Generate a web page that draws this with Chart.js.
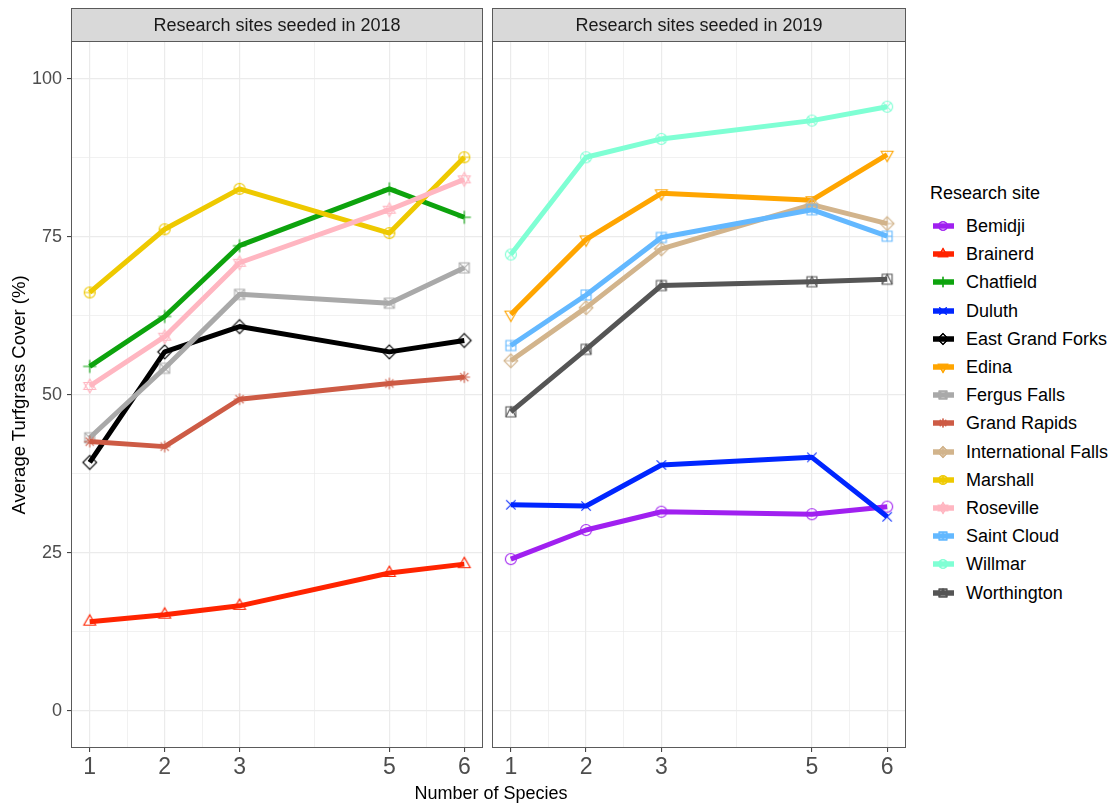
<!DOCTYPE html>
<html>
<head>
<meta charset="utf-8">
<title>Average Turfgrass Cover by Number of Species</title>
<script src="https://cdn.jsdelivr.net/npm/chart.js@4.4.1/dist/chart.umd.min.js"></script>
<style>
  html, body { margin: 0; padding: 0; background: #ffffff; }
  body { width: 1113px; height: 807px; position: relative; overflow: hidden;
         font-family: "Liberation Sans", Arial, sans-serif; }
  canvas { position: absolute; top: 0; }
  #panel2018 { left: 0; }
  #panel2019 { left: 488px; }
  .axis-title { position: absolute; color: #000; font-size: 18px; white-space: nowrap; line-height: 20px; }
  #xTitle { left: 391px; width: 200px; top: 783px; text-align: center; }
  #yTitle { left: -131px; width: 300px; top: 385px; text-align: center; transform: rotate(-90deg); font-size: 18.5px; }
  #legend { position: absolute; left: 0; top: 0; }
  .legend-title { position: absolute; left: 930px; top: 182px; font-size: 18px; color: #000; white-space: nowrap; line-height: 22px; }
  .legend-key { position: absolute; left: 931px; }
  .legend-label { position: absolute; left: 966px; font-size: 18px; color: #000; white-space: nowrap; line-height: 22px; }
</style>
</head>
<body>
<canvas id="panel2018" width="488" height="807"></canvas>
<canvas id="panel2019" width="424" height="807"></canvas>
<div class="axis-title" id="xTitle">Number of Species</div>
<div class="axis-title" id="yTitle">Average Turfgrass Cover (%)</div>
<div id="legend"></div>
<script>
// ---- Data -----------------------------------------------------------------
const speciesCounts = [1, 2, 3, 5, 6];
const xTickValues = [1, 2, 3, 5, 6];
const yTickValues = [0, 25, 50, 75, 100];
const panelTitles = ['Research sites seeded in 2018', 'Research sites seeded in 2019'];
const legendTitle = 'Research site';

const sites2018 = ['Brainerd', 'Chatfield', 'East Grand Forks', 'Fergus Falls', 'Grand Rapids', 'Marshall', 'Roseville'];
const sites2019 = ['Bemidji', 'Duluth', 'Edina', 'International Falls', 'Saint Cloud', 'Willmar', 'Worthington'];
const allSites = ['Bemidji', 'Brainerd', 'Chatfield', 'Duluth', 'East Grand Forks', 'Edina', 'Fergus Falls',
                  'Grand Rapids', 'International Falls', 'Marshall', 'Roseville', 'Saint Cloud', 'Willmar', 'Worthington'];

// Average turfgrass cover (%) at 1, 2, 3, 5 and 6 species
const brainerd           = [14.1, 15.2, 16.6, 21.8, 23.2];
const chatfield          = [54.5, 62.4, 73.6, 82.6, 78.1];
const eastGrandForks     = [39.3, 56.8, 60.8, 56.8, 58.6];
const fergusFalls        = [43.2, 54.2, 65.9, 64.5, 70.1];
const grandRapids        = [42.6, 41.8, 49.3, 51.8, 52.8];
const marshall           = [66.2, 76.2, 82.6, 75.6, 87.6];
const roseville          = [51.4, 59.2, 70.9, 79.3, 84.1];
const bemidji            = [24.0, 28.6, 31.5, 31.1, 32.3];
const duluth             = [32.6, 32.4, 38.9, 40.1, 30.7];
const edina              = [62.7, 74.6, 81.9, 80.8, 88.0];
const internationalFalls = [55.4, 63.8, 73.1, 80.1, 77.1];
const saintCloud         = [57.8, 65.8, 74.9, 79.3, 75.1];
const willmar            = [72.2, 87.6, 90.5, 93.4, 95.6];
const worthington        = [47.3, 57.2, 67.3, 67.9, 68.3];

const siteCover = {
  'Bemidji': bemidji, 'Brainerd': brainerd, 'Chatfield': chatfield, 'Duluth': duluth,
  'East Grand Forks': eastGrandForks, 'Edina': edina, 'Fergus Falls': fergusFalls,
  'Grand Rapids': grandRapids, 'International Falls': internationalFalls, 'Marshall': marshall,
  'Roseville': roseville, 'Saint Cloud': saintCloud, 'Willmar': willmar, 'Worthington': worthington
};

// ---- Styles -----------------------------------------------------------------
const siteStyle = {
  'Bemidji':             { color: '#A020F0', shape: 'circle' },
  'Brainerd':            { color: '#FF2400', shape: 'triangleUp' },
  'Chatfield':           { color: '#0DA30D', shape: 'plus' },
  'Duluth':              { color: '#0026FF', shape: 'cross' },
  'East Grand Forks':    { color: '#000000', shape: 'diamond' },
  'Edina':               { color: '#FFA500', shape: 'triangleDown' },
  'Fergus Falls':        { color: '#A9A9A9', shape: 'squareCross' },
  'Grand Rapids':        { color: '#CD5B45', shape: 'asterisk' },
  'International Falls': { color: '#D2B48C', shape: 'diamondPlus' },
  'Marshall':            { color: '#EEC900', shape: 'circlePlus' },
  'Roseville':           { color: '#FFB6C1', shape: 'starOfDavid' },
  'Saint Cloud':         { color: '#63B8FF', shape: 'squarePlus' },
  'Willmar':             { color: '#7FFFD4', shape: 'circleCross' },
  'Worthington':         { color: '#555555', shape: 'squareTriangle' }
};

const FONT = '"Liberation Sans", Arial, sans-serif';
const GRID = '#ebebeb';
const TEXT = '#4d4d4d';

// ---- Point markers (hollow glyphs drawn on small canvases) -----------------
function makeMarker(shape, color, r) {
  const size = Math.ceil(r * 3.2);
  const c = document.createElement('canvas');
  c.width = size; c.height = size;
  const g = c.getContext('2d');
  g.translate(size / 2, size / 2);
  g.strokeStyle = color;
  g.lineWidth = 1.1;
  g.lineJoin = 'miter';
  const R = r * 1.25, s = r * 0.9, d = r * 1.25;
  const circle = () => { g.beginPath(); g.arc(0, 0, r, 0, Math.PI * 2); g.stroke(); };
  const tri = (dir) => {
    g.beginPath();
    g.moveTo(0, -dir * R);
    g.lineTo(R * 0.866, dir * R * 0.5);
    g.lineTo(-R * 0.866, dir * R * 0.5);
    g.closePath(); g.stroke();
  };
  const square = () => { g.beginPath(); g.rect(-s, -s, 2 * s, 2 * s); g.stroke(); };
  const diamond = () => {
    g.beginPath(); g.moveTo(0, -d); g.lineTo(d, 0); g.lineTo(0, d); g.lineTo(-d, 0); g.closePath(); g.stroke();
  };
  const plus = (l) => { g.beginPath(); g.moveTo(-l, 0); g.lineTo(l, 0); g.moveTo(0, -l); g.lineTo(0, l); g.stroke(); };
  const cross = (l) => { g.beginPath(); g.moveTo(-l, -l); g.lineTo(l, l); g.moveTo(l, -l); g.lineTo(-l, l); g.stroke(); };
  switch (shape) {
    case 'circle': circle(); break;
    case 'triangleUp': tri(1); break;
    case 'plus': plus(r * 1.2); break;
    case 'cross': cross(r * 0.85); break;
    case 'diamond': diamond(); break;
    case 'triangleDown': tri(-1); break;
    case 'squareCross': square(); cross(s); break;
    case 'asterisk': plus(r * 1.05); cross(r * 0.75); break;
    case 'diamondPlus': diamond(); plus(d); break;
    case 'circlePlus': circle(); plus(r); break;
    case 'starOfDavid': tri(1); tri(-1); break;
    case 'squarePlus': square(); plus(s); break;
    case 'circleCross': circle(); cross(r * 0.707); break;
    case 'squareTriangle':
      square();
      g.beginPath(); g.moveTo(-s, s); g.lineTo(0, -s); g.lineTo(s, s); g.stroke();
      break;
  }
  return c;
}

const plotMarkers = {};
const keyMarkers = {};
allSites.forEach(name => {
  plotMarkers[name] = makeMarker(siteStyle[name].shape, siteStyle[name].color, 5.5);
  keyMarkers[name] = makeMarker(siteStyle[name].shape, siteStyle[name].color, 4.3);
});

// ---- Panel frame and strip label ------------------------------------------
const panelFrame = {
  id: 'panelFrame',
  afterDraw(chart, args, opts) {
    const { ctx, chartArea: a } = chart;
    const left = Math.round(a.left) + 0.5;
    const right = Math.round(a.right) - 0.5;
    const top = Math.round(a.top) + 0.5;
    const bottom = Math.round(a.bottom) - 0.5;
    const stripTop = 8.5;
    ctx.save();
    ctx.fillStyle = '#d9d9d9';
    ctx.fillRect(left, stripTop, right - left, top - stripTop);
    ctx.strokeStyle = '#5a5a5a';
    ctx.lineWidth = 1;
    ctx.strokeRect(left, stripTop, right - left, top - stripTop);
    ctx.strokeRect(left, top, right - left, bottom - top);
    ctx.fillStyle = '#1a1a1a';
    ctx.font = '18px ' + FONT;
    ctx.textAlign = 'center';
    ctx.textBaseline = 'middle';
    ctx.fillText(opts.title, (left + right) / 2, (stripTop + top) / 2 + 1);
    ctx.restore();
  }
};

// Major and minor grid positions
const xGridValues = [1, 1.5, 2, 2.5, 3, 4, 5, 5.5, 6];
const yGridValues = [0, 12.5, 25, 37.5, 50, 62.5, 75, 87.5, 100];
const isMajorX = v => xTickValues.includes(v);
const isMajorY = v => yTickValues.includes(v);

function buildPanel(canvasId, sites, title, showYLabels, padding) {
  return new Chart(document.getElementById(canvasId), {
    type: 'line',
    data: {
      datasets: sites.map((name, i) => ({
        label: name,
        data: speciesCounts.map((x, k) => ({ x: x, y: siteCover[name][k] })),
        borderColor: siteStyle[name].color,
        backgroundColor: siteStyle[name].color,
        borderWidth: 5,
        borderJoinStyle: 'round',
        borderCapStyle: 'butt',
        tension: 0,
        fill: false,
        pointStyle: plotMarkers[name],
        pointRadius: 6,
        order: -i
      }))
    },
    options: {
      responsive: false,
      animation: false,
      devicePixelRatio: 1,
      layout: { padding: padding, autoPadding: false },
      plugins: {
        legend: { display: false },
        tooltip: { enabled: false },
        panelFrame: { title: title }
      },
      scales: {
        x: {
          type: 'linear',
          min: 0.75,
          max: 6.25,
          afterBuildTicks: s => { s.ticks = xGridValues.map(v => ({ value: v })); },
          afterFit: s => { s.height = 59; s.paddingLeft = 0; s.paddingRight = 0; },
          ticks: {
            autoSkip: false,
            maxRotation: 0,
            padding: 2,
            color: TEXT,
            font: { family: FONT, size: 23 },
            callback: v => isMajorX(v) ? String(v) : ''
          },
          grid: {
            color: GRID,
            lineWidth: c => isMajorX(c.tick.value) ? 1.2 : 0.7,
            drawTicks: true,
            tickLength: 4,
            tickWidth: 1,
            tickColor: c => isMajorX(c.tick.value) ? '#333333' : 'rgba(0,0,0,0)'
          },
          border: { display: false }
        },
        y: {
          type: 'linear',
          min: -5.9,
          max: 106,
          afterBuildTicks: s => { s.ticks = yGridValues.map(v => ({ value: v })); },
          afterFit: s => { s.width = showYLabels ? 71 : 0; s.paddingTop = 0; s.paddingBottom = 0; },
          ticks: {
            display: showYLabels,
            autoSkip: false,
            padding: 5,
            color: TEXT,
            font: { family: FONT, size: 18 },
            callback: v => isMajorY(v) ? String(v) : ''
          },
          grid: {
            color: GRID,
            lineWidth: c => isMajorY(c.tick.value) ? 1.2 : 0.7,
            drawTicks: showYLabels,
            tickLength: 4,
            tickWidth: 1,
            tickColor: c => isMajorY(c.tick.value) ? '#333333' : 'rgba(0,0,0,0)'
          },
          border: { display: false }
        }
      }
    },
    plugins: [panelFrame]
  });
}

buildPanel('panel2018', sites2018, panelTitles[0], true, { top: 41, right: 5, bottom: 0, left: 0 });
buildPanel('panel2019', sites2019, panelTitles[1], false, { top: 41, right: 6, bottom: 0, left: 4 });

// ---- Legend -----------------------------------------------------------------
const legend = document.getElementById('legend');
const titleEl = document.createElement('div');
titleEl.className = 'legend-title';
titleEl.textContent = legendTitle;
legend.appendChild(titleEl);

allSites.forEach((name, i) => {
  const cy = 226 + i * 28.2;
  const key = document.createElement('canvas');
  key.className = 'legend-key';
  key.width = 24; key.height = 22;
  key.style.top = (cy - 11) + 'px';
  const g = key.getContext('2d');
  g.drawImage(keyMarkers[name], 12 - keyMarkers[name].width / 2, 11 - keyMarkers[name].height / 2);
  g.strokeStyle = siteStyle[name].color;
  g.lineWidth = 5.5;
  g.beginPath(); g.moveTo(2, 11); g.lineTo(23, 11); g.stroke();
  g.drawImage(keyMarkers[name], 12 - keyMarkers[name].width / 2, 11 - keyMarkers[name].height / 2);
  legend.appendChild(key);

  const label = document.createElement('div');
  label.className = 'legend-label';
  label.style.top = (cy - 11) + 'px';
  label.textContent = name;
  legend.appendChild(label);
});
</script>
</body>
</html>
